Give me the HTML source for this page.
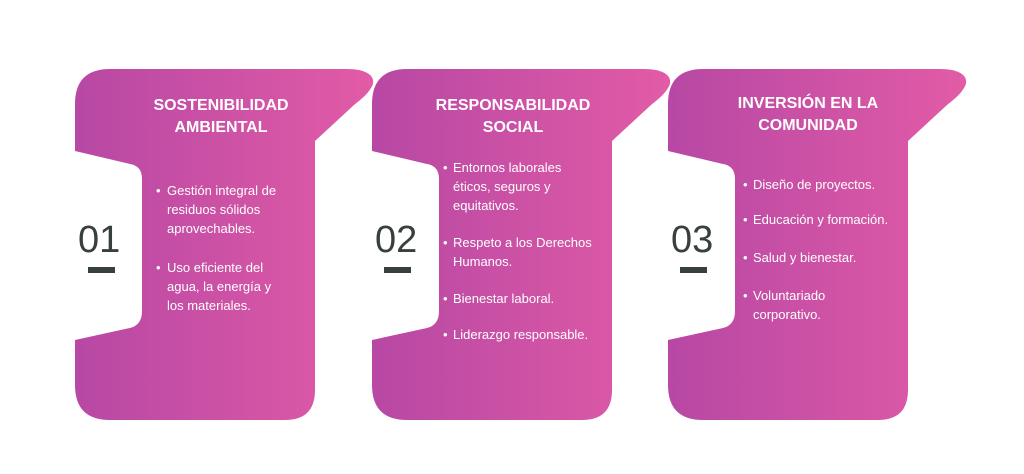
<!DOCTYPE html>
<html><head><meta charset="utf-8"><style>
html,body{margin:0;padding:0;background:#fff;}
svg{display:block;font-family:"Liberation Sans",sans-serif;}
.t{fill:#fff;font-weight:bold;font-size:16px;text-anchor:middle;}
.b{fill:#fff;font-size:13px;}
.n{fill:#37403f;font-size:38px;}
</style></head><body>
<svg width="1024" height="474" viewBox="0 0 1024 474">
<defs>
<linearGradient id="g" x1="0" y1="0" x2="1" y2="0">
<stop offset="0" stop-color="#b748a4"/><stop offset="1" stop-color="#e25ba6"/>
</linearGradient>
<path id="card" d="M35,0 L272,0 C296,0 302,10 296,19 C292,26 285,31 279,36 L240,72 L240,321 Q240,351 210,351 L35,351 Q0,351 0,316 L0,271 L55,259 Q67,256 67,242 L67,110 Q67,97 55,95 L0,82 L0,35 Q0,0 35,0 Z"/>
</defs>
<use href="#card" x="75" y="69" fill="url(#g)"/>
<use href="#card" x="372" y="69" fill="url(#g)"/>
<use href="#card" x="668" y="69" fill="url(#g)"/>

<text class="t" x="221" y="110">SOSTENIBILIDAD</text>
<text class="t" x="221" y="132">AMBIENTAL</text>
<text class="t" x="513" y="110">RESPONSABILIDAD</text>
<text class="t" x="513" y="132">SOCIAL</text>
<text class="t" x="808" y="108">INVERSIÓN EN LA</text>
<text class="t" x="808" y="130">COMUNIDAD</text>

<text class="n" x="78" y="252">01</text><rect x="88" y="267" width="27" height="6" fill="#37403f"/>
<text class="n" x="375" y="252">02</text><rect x="384" y="267" width="27" height="6" fill="#37403f"/>
<text class="n" x="671" y="252">03</text><rect x="680" y="267" width="27" height="6" fill="#37403f"/>

<g class="b">
<text x="156" y="195">•</text><text x="167" y="195">Gestión integral de</text>
<text x="167" y="214">residuos sólidos</text>
<text x="167" y="233">aprovechables.</text>
<text x="156" y="272">•</text><text x="167" y="272">Uso eficiente del</text>
<text x="167" y="291">agua, la energía y</text>
<text x="167" y="310">los materiales.</text>

<text x="443" y="172">•</text><text x="453" y="172">Entornos laborales</text>
<text x="453" y="191">éticos, seguros y</text>
<text x="453" y="210">equitativos.</text>
<text x="443" y="247">•</text><text x="453" y="247">Respeto a los Derechos</text>
<text x="453" y="266">Humanos.</text>
<text x="443" y="303">•</text><text x="453" y="303">Bienestar laboral.</text>
<text x="443" y="339">•</text><text x="453" y="339">Liderazgo responsable.</text>

<text x="743" y="189">•</text><text x="753" y="189">Diseño de proyectos.</text>
<text x="743" y="224">•</text><text x="753" y="224">Educación y formación.</text>
<text x="743" y="262">•</text><text x="753" y="262">Salud y bienestar.</text>
<text x="743" y="300">•</text><text x="753" y="300">Voluntariado</text>
<text x="753" y="319">corporativo.</text>
</g>
</svg>
</body></html>
